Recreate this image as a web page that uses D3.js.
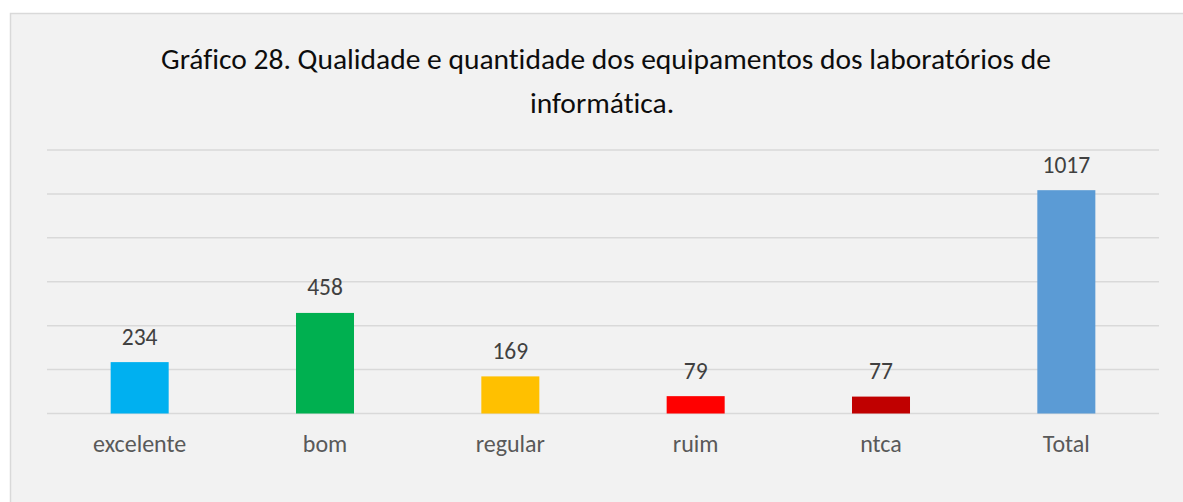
<!DOCTYPE html>
<html>
<head>
<meta charset="utf-8">
<script src="https://cdn.jsdelivr.net/npm/d3@7"></script>
<style>
  body { margin: 0; background: #fff; }
  svg { display: block; }
  text { font-variant-ligatures: none; }
</style>
</head>
<body>
<div id="chart"></div>
<script>
const categories = ['excelente', 'bom', 'regular', 'ruim', 'ntca', 'Total']
const values = [234, 458, 169, 79, 77, 1017]
const barColors = ['#00b0f0', '#00b050', '#ffc000', '#ff0000', '#c00000', '#5b9bd5']
const gridTicks = [0, 200, 400, 600, 800, 1000, 1200]
const titleLines = ['Gráfico 28. Qualidade e quantidade dos equipamentos dos laboratórios de', 'informática.']

const width = 1183
const height = 502
const font = 'Carlito, Calibri, "Open Sans", sans-serif'

const svg = d3.select('#chart').append('svg').attr('width', width).attr('height', height)

// chart frame, runs off the right and bottom edges
svg.append('rect')
  .attr('x', 10.5).attr('y', 13.5)
  .attr('width', width).attr('height', height)
  .attr('fill', '#f2f2f2').attr('stroke', '#d9d9d9').attr('stroke-width', 1.5)

const plotLeft = 47
const plotRight = 1159
const plotTop = 150
const plotBottom = 413.5

const x = d3.scaleBand().domain(categories).range([plotLeft, plotRight]).paddingInner(0.687).paddingOuter(0.3435)
const y = d3.scaleLinear().domain([0, 1200]).range([plotBottom, plotTop])

svg.append('g').selectAll('line').data(gridTicks).enter().append('line')
  .attr('x1', plotLeft).attr('x2', plotRight)
  .attr('y1', d => y(d)).attr('y2', d => y(d))
  .attr('stroke', '#d9d9d9').attr('stroke-width', 1.5)

svg.append('g').selectAll('rect').data(values).enter().append('rect')
  .attr('x', (d, i) => x(categories[i]))
  .attr('width', x.bandwidth())
  .attr('y', d => y(d))
  .attr('height', d => y(0) - y(d))
  .attr('fill', (d, i) => barColors[i])

svg.append('g').selectAll('text').data(values).enter().append('text')
  .attr('x', (d, i) => x(categories[i]) + x.bandwidth() / 2)
  .attr('y', d => y(d) - 17.5)
  .attr('text-anchor', 'middle')
  .attr('font-family', font).attr('font-size', 23.5)
  .attr('fill', '#404040')
  .text(d => d)

svg.append('g').selectAll('text').data(categories).enter().append('text')
  .attr('x', d => x(d) + x.bandwidth() / 2)
  .attr('y', 452)
  .attr('text-anchor', 'middle')
  .attr('font-family', font).attr('font-size', 24)
  .attr('fill', '#595959')
  .text(d => d)

svg.append('g').selectAll('text').data(titleLines).enter().append('text')
  .attr('x', (d, i) => i === 0 ? 606 : 602)
  .attr('y', (d, i) => 69 + i * 44)
  .attr('text-anchor', 'middle')
  .attr('font-family', font).attr('font-size', 29.5)
  .attr('fill', '#0d0d0d')
  .text(d => d)
</script>
</body>
</html>
